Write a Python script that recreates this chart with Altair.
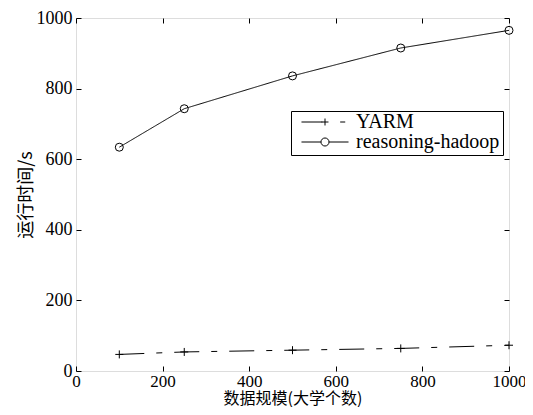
import altair as alt
import pandas as pd

sizes = [100, 250, 500, 750, 1000]
yarm = [47, 54, 59, 64, 73]
hadoop = [634, 743, 836, 915, 965]
series = ["YARM", "reasoning-hadoop"]
x_ticks = [0, 200, 400, 600, 800, 1000]
y_ticks = [0, 200, 400, 600, 800, 1000]

df = pd.DataFrame({
    "size": sizes * 2,
    "time": yarm + hadoop,
    "series": [series[0]] * len(sizes) + [series[1]] * len(sizes),
})

PLUS = "M-1,0L1,0M0,-1L0,1"
# legend glyphs (unit = 6 px): line + marker + line/dash
LEG_YARM = "M-3.92,0L-0.45,0M-0.58,0L0.58,0M0,-0.58L0,0.58M2.53,0L3.37,0"
LEG_HADOOP = ("M-3.92,0L-0.67,0M0.67,0A0.67,0.67 0 1,1 -0.67,0"
              "A0.67,0.67 0 1,1 0.67,0M0.67,0L3.92,0")

xs = alt.Scale(domain=[0, 1000], nice=False)
ys = alt.Scale(domain=[0, 1000], nice=False)

SERIF = "Liberation Serif"
CJK = "Noto Sans CJK SC"

x_axis = alt.Axis(values=x_ticks, format="d", title="数据规模(大学个数)", grid=False, domain=False,
                  tickSize=5, offset=-5, labelPadding=2, tickColor="black",
                  labelFont=SERIF, labelFontSize=17, labelColor="black",
                  titleFont=CJK, titleFontSize=16, titleFontWeight="normal",
                  titleColor="black", titlePadding=1, labelFlush=False)
y_axis = alt.Axis(values=y_ticks, format="d", title="运行时间/s", grid=False, domain=False,
                  tickSize=5, offset=-5, labelPadding=4, tickColor="black",
                  labelFont=SERIF, labelFontSize=18, labelColor="black",
                  titleFont=CJK, titleFontSize=18, titleFontWeight="normal",
                  titleColor="black", titlePadding=1, labelFlush=False)
top_axis = alt.Axis(orient="top", values=x_ticks, title=None, grid=False, domain=False,
                    tickSize=5, offset=-5, labels=False, tickColor="black")
right_axis = alt.Axis(orient="right", values=y_ticks, title=None, grid=False, domain=False,
                      tickSize=5, offset=-5, labels=False, tickColor="black")

base = alt.Chart(df)

lines = base.mark_line(color="black", strokeWidth=1).encode(
    x=alt.X("size:Q", scale=xs, axis=x_axis),
    y=alt.Y("time:Q", scale=ys, axis=y_axis),
    detail="series:N",
    strokeDash=alt.StrokeDash("series:N", scale=alt.Scale(domain=series, range=[[25, 12, 6, 12], [1, 0]]),
                              legend=None),
)

points = base.mark_point(color="black", filled=False, size=64, strokeWidth=1, opacity=1).encode(
    x=alt.X("size:Q", scale=xs, axis=None),
    y=alt.Y("time:Q", scale=ys, axis=None),
    shape=alt.Shape("series:N", scale=alt.Scale(domain=series, range=[PLUS, "circle"]), legend=None),
)

legend_layer = base.transform_filter("false").mark_point(
    color="black", filled=False, size=144, strokeWidth=1, opacity=1).encode(
    x=alt.X("size:Q", scale=xs, axis=None),
    y=alt.Y("time:Q", scale=ys, axis=None),
    shape=alt.Shape("series:N", scale=alt.Scale(domain=series, range=[LEG_YARM, LEG_HADOOP]),
                    legend=alt.Legend(title=None, orient="none", legendX=215, legendY=93,
                                      symbolSize=144, symbolStrokeWidth=1, symbolOffset=21,
                                      symbolStrokeColor="black", symbolFillColor="transparent",
                                      labelFont=SERIF, labelFontSize=20, labelColor="black",
                                      strokeColor="black", fillColor="white", padding=3,
                                      labelOffset=21, clipHeight=16, rowPadding=0)),
)

frame = base.mark_point(opacity=0).encode(
    x=alt.X("size:Q", scale=xs, axis=top_axis),
    y=alt.Y("time:Q", scale=ys, axis=right_axis),
)

chart = alt.layer(lines, points, legend_layer, frame).resolve_scale(
    shape="independent"
).resolve_axis(x="independent", y="independent").properties(
    width=433, height=353,
    autosize=alt.AutoSizeParams(type="none"),
    padding={"left": 68, "top": 10, "right": 16, "bottom": 36},
).configure_view(stroke="black", strokeWidth=1).configure(background="white")

chart.save("out.html", embed_options={"renderer": "svg", "actions": False})
